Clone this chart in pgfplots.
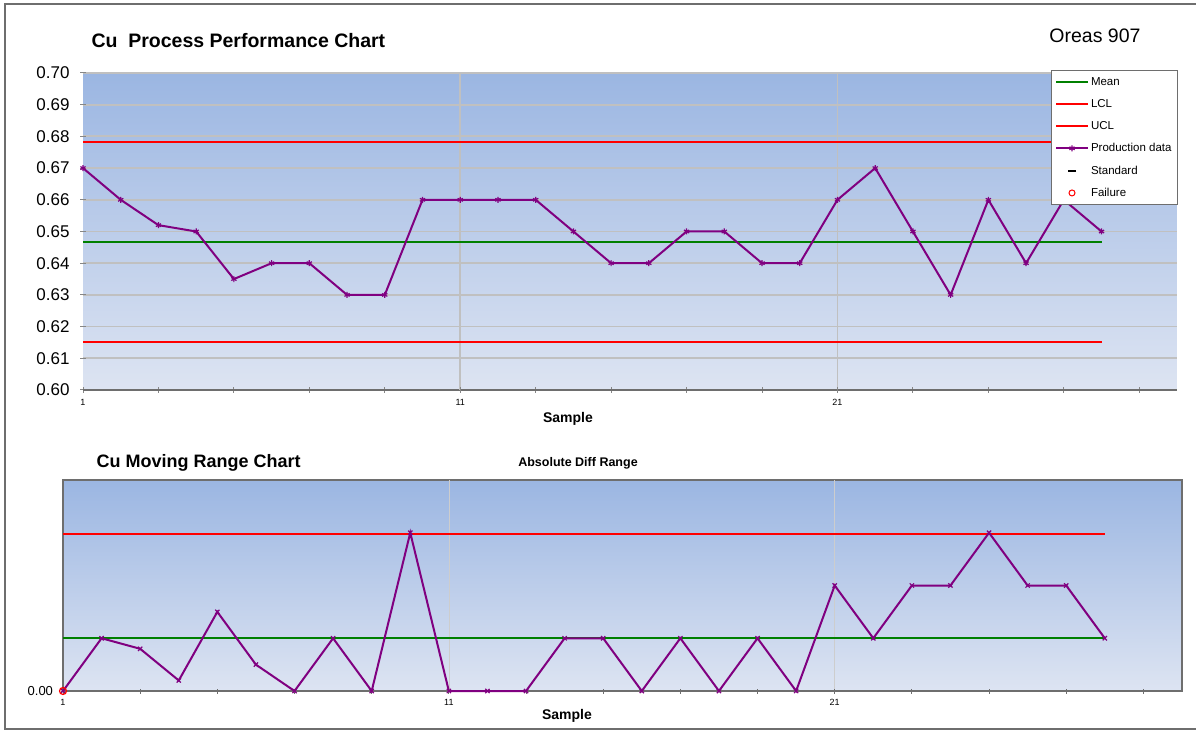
\documentclass[border=0pt]{standalone}
\usepackage{fontspec}
\setmainfont{Liberation Sans}
\usepackage{pgfplots}
\usepackage{pgfplotstable}
\pgfplotsset{compat=1.18}

\definecolor{bgtop}{RGB}{155,182,226}
\definecolor{bgbot}{RGB}{221,228,242}
\definecolor{gridc}{RGB}{192,192,192}
\definecolor{purp}{RGB}{128,0,128}
\definecolor{meang}{RGB}{0,128,0}
\definecolor{redl}{RGB}{255,0,0}
\definecolor{axgray}{RGB}{110,110,110}

\pgfplotstableread{
x y
1 0.670
2 0.660
3 0.652
4 0.650
5 0.635
6 0.640
7 0.640
8 0.630
9 0.630
10 0.660
11 0.660
12 0.660
13 0.660
14 0.650
15 0.640
16 0.640
17 0.650
18 0.650
19 0.640
20 0.640
21 0.660
22 0.670
23 0.650
24 0.630
25 0.660
26 0.640
27 0.660
28 0.650
}\proddata

\pgfplotstableread{
x r
1 0
2 0.010
3 0.008
4 0.002
5 0.015
6 0.005
7 0
8 0.010
9 0
10 0.030
11 0
12 0
13 0
14 0.010
15 0.010
16 0
17 0.010
18 0
19 0.010
20 0
21 0.020
22 0.010
23 0.020
24 0.020
25 0.030
26 0.020
27 0.020
28 0.010
}\mrdata

\begin{document}
\begin{tikzpicture}[x=1pt,y=1pt]
\path[use as bounding box] (0,0) rectangle (1196,731);
\draw[axgray, line width=2pt] (1196,727) -- (5,727) -- (5,2) -- (1196,2);

\node[anchor=west, font=\bfseries\fontsize{19.5}{20}\selectfont] at (88,690) {Cu\ \ Process Performance Chart};
\node[anchor=east, font=\fontsize{19.5}{20}\selectfont] at (1144,695) {Oreas 907};
\node[font=\bfseries\fontsize{14}{14}\selectfont] at (568,312) {Sample};
\node[anchor=west, font=\bfseries\fontsize{18}{18}\selectfont] at (93,268) {Cu Moving Range Chart};
\node[font=\bfseries\fontsize{12.5}{13}\selectfont] at (578,268) {Absolute Diff Range};
\node[font=\bfseries\fontsize{14}{14}\selectfont] at (567,15) {Sample};

\begin{axis}[
  at={(83pt,341pt)}, anchor=south west, scale only axis,
  width=1094pt, height=317pt,
  xmin=1, xmax=30, ymin=0.6, ymax=0.7,
  clip=false,
  axis lines*=left,
  x axis line style={axgray, line width=1.5pt},
  y axis line style={draw=none},
  axis background/.style={top color=bgtop, bottom color=bgbot},
  ytick={0.6,0.61,0.62,0.63,0.64,0.65,0.66,0.67,0.68,0.69,0.7},
  ymajorgrids, major grid style={gridc, line width=1.8pt},
  xtick={1,3,...,29},
  xticklabels={1,,,,,11,,,,,21,,,,},
  extra x ticks={11,21}, extra x tick labels={},
  extra x tick style={grid=major, major grid style={gridc, line width=1.8pt}},
  tick style={gridc!70!black, line width=1pt}, tick align=center, major tick length=6pt,
  scaled y ticks=false,
  /pgf/number format/assume math mode=true,
  yticklabel style={font=\fontsize{17}{17}\selectfont, xshift=-7pt, /pgf/number format/fixed, /pgf/number format/fixed zerofill, /pgf/number format/precision=2},
  xticklabel style={font=\fontsize{9}{9}\selectfont, yshift=-3pt},
  legend style={at={(1,1)}, anchor=north east, xshift=1pt, yshift=3pt, draw=axgray, fill=white, line width=0.8pt,
    font=\fontsize{11.5}{13}\selectfont, cells={anchor=west}, row sep=8.5pt, inner xsep=4pt, inner ysep=5pt},
  legend image code/.code={\draw[mark repeat=2, mark phase=2, #1] plot coordinates {(0pt,0pt) (16pt,0pt) (32pt,0pt)};},
]
\addplot[color=meang, line width=2pt] coordinates {(1,0.6466) (28,0.6466)};
\addlegendentry{Mean}
\addplot[color=redl, line width=2pt] coordinates {(1,0.6152) (28,0.6152)};
\addlegendentry{LCL}
\addplot[color=redl, line width=2pt] coordinates {(1,0.6781) (28,0.6781)};
\addlegendentry{UCL}
\addplot[color=purp, line width=2pt, mark=asterisk, mark size=3pt, mark options={line width=1.2pt}] table[x=x,y=y]{\proddata};
\addlegendentry{Production data}
\addlegendimage{only marks, mark=-, black, mark size=4pt, line width=2pt}
\addlegendentry{Standard}
\addlegendimage{only marks, mark=o, redl, mark size=3pt, line width=1pt}
\addlegendentry{Failure}
\end{axis}

\begin{axis}[
  at={(63pt,40pt)}, anchor=south west, scale only axis,
  width=1119pt, height=211pt,
  xmin=1, xmax=30, ymin=0, ymax=0.04,
  clip=false,
  axis line style={axgray, line width=1.5pt},
  axis background/.style={top color=bgtop, bottom color=bgbot},
  ytick={0},
  xtick={1,3,...,29},
  xticklabels={1,,,,,11,,,,,21,,,,},
  extra x ticks={11,21}, extra x tick labels={},
  extra x tick style={grid=major, major grid style={gridc!80!white, line width=0.6pt}},
  tick style={axgray, line width=1pt}, tick align=center, major tick length=5pt,
  xtick pos=bottom, ytick pos=left,
  scaled y ticks=false,
  /pgf/number format/assume math mode=true,
  yticklabel style={font=\fontsize{13}{13}\selectfont, xshift=-4pt, /pgf/number format/fixed, /pgf/number format/fixed zerofill, /pgf/number format/precision=2},
  xticklabel style={font=\fontsize{9}{9}\selectfont, yshift=-2pt},
]
\addplot[color=meang, line width=2pt] coordinates {(1,0.01) (28,0.01)};
\addplot[color=redl, line width=2pt] coordinates {(1,0.0298) (28,0.0298)};
\addplot[color=purp, line width=2pt, mark=x, mark size=3pt, mark options={line width=1.2pt}] table[x=x,y=r]{\mrdata};
\addplot[only marks, color=redl, mark=o, mark size=3.5pt, line width=1.2pt] coordinates {(1,0)};
\end{axis}
\end{tikzpicture}
\end{document}
